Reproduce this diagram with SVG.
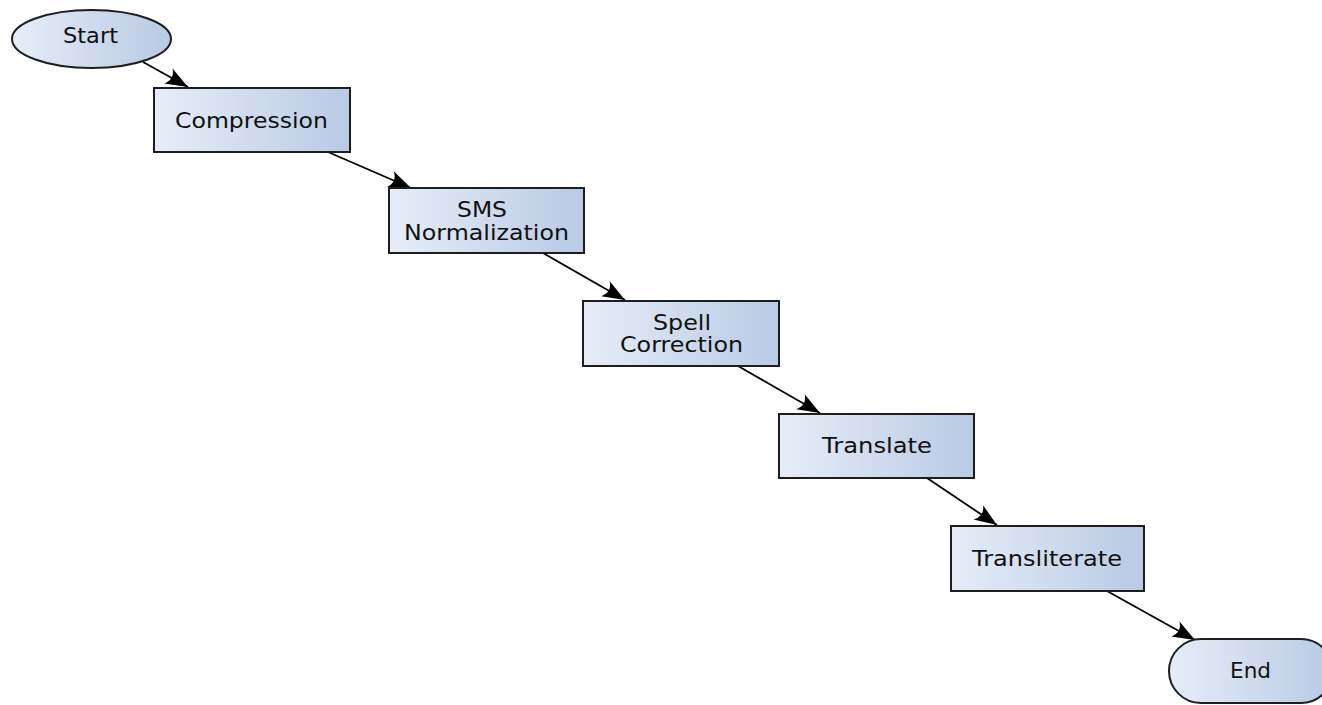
<svg xmlns="http://www.w3.org/2000/svg" width="1322" height="705" viewBox="0 0 1322 705">
<defs>
<linearGradient id="g" x1="0" y1="0" x2="1" y2="0">
<stop offset="0" stop-color="#e6edf7"/>
<stop offset="1" stop-color="#b9cae4"/>
</linearGradient>
<marker id="ah" markerUnits="userSpaceOnUse" markerWidth="30" markerHeight="30" viewBox="-24 -12 28 24" refX="0" refY="0" orient="auto">
<path d="M0,0 L-21,-8 Q-14,0 -21,8 Z" fill="#000"/>
</marker>
</defs>
<style>
.n{fill:url(#g);stroke:#1e1e1e;stroke-width:2}
.t{font-family:"DejaVu Sans",sans-serif;font-size:20.5px;fill:#111;text-anchor:middle}
.c{fill:none;stroke:#000;stroke-width:1.8;marker-end:url(#ah)}
</style>
<g id="connectors">
<line class="c" x1="143" y1="62" x2="188" y2="87"/>
<line class="c" x1="328" y1="152" x2="411" y2="188"/>
<line class="c" x1="543" y1="253" x2="625" y2="300"/>
<line class="c" x1="738" y1="366" x2="820" y2="413"/>
<line class="c" x1="927" y1="478" x2="997" y2="525"/>
<line class="c" x1="1107" y1="591" x2="1195" y2="640"/>
</g>
<g id="start">
<ellipse class="n" cx="91.5" cy="39" rx="79.5" ry="29"/>
<text class="t" x="90.5" y="43" textLength="55" lengthAdjust="spacingAndGlyphs">Start</text>
</g>
<g id="compression">
<rect class="n" x="154" y="88" width="196" height="64"/>
<text class="t" x="251.5" y="128" textLength="153" lengthAdjust="spacingAndGlyphs">Compression</text>
</g>
<g id="sms">
<rect class="n" x="389" y="188" width="195" height="65"/>
<text class="t" x="482" y="217" textLength="50" lengthAdjust="spacingAndGlyphs">SMS</text>
<text class="t" x="486.5" y="240" textLength="165" lengthAdjust="spacingAndGlyphs">Normalization</text>
</g>
<g id="spell">
<rect class="n" x="583" y="301" width="196" height="65"/>
<text class="t" x="682" y="330" textLength="58" lengthAdjust="spacingAndGlyphs">Spell</text>
<text class="t" x="681.5" y="352" textLength="123" lengthAdjust="spacingAndGlyphs">Correction</text>
</g>
<g id="translate">
<rect class="n" x="779" y="414" width="195" height="64"/>
<text class="t" x="877" y="453" textLength="110" lengthAdjust="spacingAndGlyphs">Translate</text>
</g>
<g id="transliterate">
<rect class="n" x="951" y="526" width="193" height="65"/>
<text class="t" x="1047" y="566" textLength="150" lengthAdjust="spacingAndGlyphs">Transliterate</text>
</g>
<g id="end">
<rect class="n" x="1169" y="639" width="164" height="64" rx="32" ry="32"/>
<text class="t" x="1250.5" y="678" textLength="41" lengthAdjust="spacingAndGlyphs">End</text>
</g>
</svg>
